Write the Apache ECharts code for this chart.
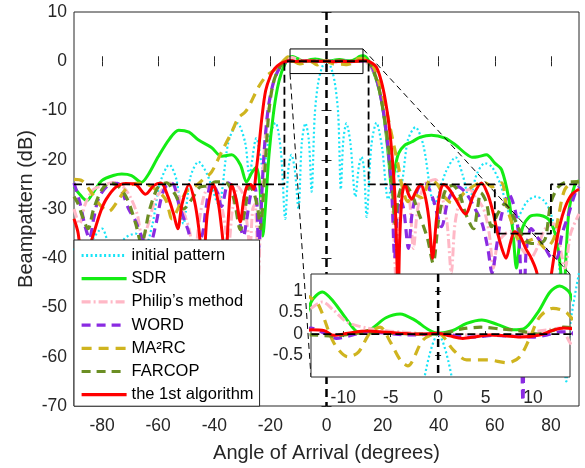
<!DOCTYPE html>
<html><head><meta charset="utf-8">
<script src="https://cdn.jsdelivr.net/npm/echarts@6/dist/echarts.min.js"></script>
<style>html,body{margin:0;padding:0;background:#fff}#c{width:585px;height:468px}</style>
</head><body><div id="c"></div>
<script>
// ---------- data ----------
const seriesNames = ['initial pattern','SDR','Philip\u2019s method','WORD','MA\u00b2RC','FARCOP','the 1st algorithm'];
const xTicksMain = [-80,-60,-40,-20,0,20,40,60,80];
const mainAngleRange = [-90, 90];
const mainDbRange = [-70, 10];
const insetAngleRange = [-13.4, 13.9];
const insetDbRange = [-1, 1.4];
const xTicksInset = [-10,-5,0,5,10];
const yTicksInset = [-0.5,0,0.5,1];
const zoomBoxAngles = [-13, 13];
const zoomBoxDb = [-2.5, 2.5];
const maskAngles = [-90,-15,-15,15,15,60,60,80,80,90];
const maskDb     = [-25,-25,0,0,-25,-25,-35,-35,-25,-25];
const boresight = 0;

const initialPattern = [[-90,-38],[-87,-45],[-84,-37],[-80,-34],[-76,-40],[-72,-36],[-68,-35],[-65,-38],[-62,-33],[-59.5,-25],[-56,-21],[-53.5,-24],[-51,-33],[-48.5,-23.5],[-45.6,-20.4],[-42.5,-23],[-38.5,-29],[-35,-16.5],[-31.7,-12.6],[-29,-16.5],[-27.5,-23],[-25,-15.6],[-22.5,-22],[-20.5,-15.5],[-18.2,-12.5],[-16.3,-18],[-14.7,-32],[-13.6,-22],[-12.5,-19],[-11.3,-22],[-10,-30],[-8.8,-16.5],[-7.5,-12.6],[-6.3,-16],[-5.3,-26.5],[-4.2,-11],[-3,-4.5],[-1.5,-1.1],[0,0],[1.5,-1.1],[3,-4.5],[4.2,-11],[5.1,-26],[6,-16],[7.1,-12.6],[8.5,-16.5],[10.3,-27.5],[11.5,-21.5],[12.5,-19.4],[13.4,-22],[14.3,-31.6],[16,-17],[17.8,-12.5],[19.8,-17.5],[22,-28],[24.5,-21],[26.5,-25],[29,-16],[31.7,-13.4],[34.5,-17],[38.5,-29],[42.5,-22.5],[46,-19.5],[48.5,-23],[51,-28],[53.5,-23],[56.5,-20.7],[59,-21.5],[62,-25],[64.5,-30],[66.5,-33],[68.5,-31.5],[71.5,-28.5],[74.5,-27.5],[77.5,-28.3],[80,-31],[82.5,-38],[85.5,-65],[87,-53],[90,-43]];

const sdr = [[-90,-25.5],[-88,-27],[-85.5,-28.3],[-83,-26.5],[-80,-24.2],[-76,-23.2],[-73,-22.9],[-69.5,-23.2],[-66,-24.6],[-63.5,-23],[-60,-19.4],[-56,-15.8],[-52.7,-14],[-49,-14.4],[-45.6,-16],[-41,-17.5],[-37.4,-19.3],[-33.8,-19],[-30.7,-21],[-28.5,-24.5],[-26.5,-22.5],[-25,-21.5],[-23.8,-25],[-22.7,-35.5],[-21.7,-29],[-20.5,-19],[-19,-11],[-17.5,-5.5],[-16,-2.2],[-14.5,-0.2],[-13.4,0.74],[-12.2,0.98],[-11,0.75],[-9.6,0.33],[-8.4,0.05],[-7.2,0.1],[-5.5,0.38],[-4,0.47],[-2.5,0.33],[-1,0.1],[0,0.02],[1.5,0.08],[3,0.25],[4.6,0.33],[6.3,0.22],[7.9,0.1],[9,0.12],[10.5,0.5],[11.8,0.98],[12.8,1.12],[13.9,0.95],[15,0.1],[16.5,-1.8],[18,-4.2],[19.6,-8],[21,-13.5],[22.2,-20],[23.2,-25.5],[24.3,-22],[25.7,-18.7],[28,-17],[30.3,-16.4],[33.5,-15.4],[37.4,-15],[42.3,-15.6],[46,-17],[49.5,-18.7],[52,-19.5],[54,-19.4],[57,-19],[60,-20.7],[62.4,-22],[65,-28],[66.5,-35],[67.7,-42],[68.8,-37],[70,-33.6],[72.5,-31.5],[75,-31.2],[79,-32],[81.5,-35],[83,-40],[84.5,-48],[85.5,-38],[86.5,-30],[88.7,-24.7],[90,-24.3]];

const philips = [[-90,-30],[-88,-33],[-86,-29],[-83,-26],[-80,-25.3],[-76,-24.6],[-72.5,-25.5],[-70,-27.5],[-67.5,-31],[-65.5,-36],[-63.5,-33],[-61,-28],[-58.4,-26],[-56,-24.7],[-53.5,-26],[-51.3,-30],[-49,-34],[-47,-40],[-45.5,-33],[-43.5,-27],[-41,-25],[-38.5,-27],[-36.5,-32],[-35,-38],[-33.5,-30],[-31.5,-25.5],[-29.8,-27],[-28.3,-33],[-27.3,-38],[-26.3,-30],[-25.5,-29],[-24.8,-36],[-24.3,-44],[-23.6,-34],[-22.8,-24],[-21.8,-15],[-20.6,-9],[-19,-4.5],[-17,-1.5],[-15,0.2],[-14.2,0.45],[-13.4,0.6],[-12.2,0.75],[-11,0.55],[-9.6,0.28],[-7.5,0.14],[-5.5,0.08],[-4,0.05],[-2,0.02],[0,0],[3.7,-0.02],[6,-0.02],[8.3,-0.03],[10,0.05],[11.5,0.1],[12.8,0.14],[13.9,-0.2],[15,-0.6],[16.5,-1.8],[18.5,-4.8],[20.5,-10.5],[22,-17.5],[23.2,-25],[24,-35],[24.8,-45],[25.6,-33],[27,-26],[28.3,-24.7],[29.6,-28],[31,-38],[32.5,-30],[35,-25],[38.8,-24],[41,-27],[43,-33],[44.5,-43],[45.8,-33],[48,-27.5],[51,-26],[53,-27.5],[56,-30],[58,-35],[59.5,-42],[61,-37],[63.8,-35],[66,-34.5],[69.5,-38],[72.7,-40],[75,-38],[78,-34],[81,-33],[83,-37],[85,-42],[87,-35],[90,-31]];

const word = [[-90,-24.7],[-88,-28.5],[-86,-33.6],[-84.5,-36],[-83,-32],[-81,-27.5],[-77.3,-25],[-74.5,-24.8],[-72.5,-27],[-70.5,-30],[-68,-32.5],[-65.6,-36],[-63.5,-38],[-61,-33.6],[-59,-28],[-57.4,-25.5],[-55,-24.8],[-52.4,-29.5],[-49.5,-34],[-47.5,-37],[-44.5,-35.6],[-43,-30],[-41,-24.7],[-39,-26.5],[-37.4,-29.5],[-35,-24.7],[-33.2,-26],[-31.5,-31],[-29.6,-35.5],[-28.4,-32],[-27,-27],[-25.6,-25.5],[-24.8,-29],[-24.2,-38],[-23.6,-34],[-22.8,-24],[-21.9,-16],[-20.7,-9.3],[-19,-4.5],[-17,-1.6],[-15,-0.3],[-13.4,0.14],[-12,0.02],[-10.7,-0.1],[-9,-0.02],[-7.5,0.05],[-5.5,0.02],[-3,-0.02],[0,0],[2,-0.04],[3.7,-0.07],[6,-0.03],[8,-0.05],[10,-0.07],[11.5,-0.02],[12.8,0.05],[13.9,0.05],[15,-0.3],[16.5,-1.5],[18.5,-5],[20.5,-11],[22,-18],[23.3,-27],[24.3,-40],[25.1,-32],[26.2,-28],[27.5,-30],[29.2,-38],[30.5,-31],[32.5,-26],[35,-24.7],[38,-28],[41,-33.6],[43.5,-28],[47,-25.5],[50,-27],[53,-30],[55.5,-33],[57.5,-38],[59,-43],[60.5,-38],[62.5,-31],[65,-27],[67.5,-31],[69,-40],[70,-69],[71,-40],[73,-34],[75.5,-36],[78,-38],[80.5,-40],[82,-40],[84,-35],[86,-31.6],[88.7,-26.7],[90,-25.5]];

const ma2rc = [[-90,-24],[-87,-24.3],[-84,-26.5],[-81,-29],[-77.7,-30.5],[-74,-28],[-71.6,-26],[-68,-24.8],[-65,-24.8],[-61,-26],[-57.4,-28],[-55,-32],[-53,-30],[-50,-26.5],[-47,-25.5],[-44,-24],[-41,-22.5],[-37.4,-18.4],[-33.8,-14.4],[-31.4,-11.5],[-29,-10.3],[-27.5,-9],[-24.2,-5.2],[-21.5,-3],[-19.6,-2.2],[-17.5,-1.3],[-16,-0.3],[-14.5,0.6],[-13.8,0.88],[-13.4,0.84],[-12.6,0.68],[-11,-0.2],[-9.5,-0.53],[-8.4,-0.42],[-7.2,0.02],[-6.1,0.16],[-5,-0.2],[-4,-0.6],[-3.2,-0.74],[-1.6,-0.14],[0,0.02],[1.6,-0.37],[3,-0.6],[5.2,-0.6],[7.3,-0.67],[8.6,-0.53],[9.7,-0.07],[10.7,0.4],[12.1,0.6],[13.6,0.49],[15,0],[17,-1.5],[19,-5],[21,-9],[22.5,-13],[24,-17],[25.5,-21],[27,-25.5],[29,-28.5],[31,-27],[34,-27.7],[37,-24],[39.5,-25],[42,-27.5],[44.6,-28.7],[47,-28],[49.5,-26.5],[53.5,-25],[56.6,-24.7],[59,-25.5],[62.4,-24.7],[64,-29],[66.6,-33.6],[69.5,-37],[72,-36.5],[74.5,-36],[78,-38],[81,-36],[82.7,-31.5],[85,-26],[88.7,-24.5],[90,-24.5]];

const farcop = [[-90,-27.5],[-88.5,-29],[-87,-31.5],[-85,-34],[-83,-30],[-80,-26],[-77,-24.7],[-74,-25.5],[-71,-28],[-68,-33],[-66,-37],[-63,-30],[-60,-25.5],[-57,-24.7],[-54,-27],[-51,-30],[-48,-28],[-45,-25.5],[-42,-25.3],[-39.6,-24.5],[-35.6,-24.7],[-33,-28],[-30.7,-34.2],[-29,-30],[-27.5,-25.5],[-26,-26.5],[-24.5,-30],[-23.5,-34],[-22.6,-28],[-21.5,-18],[-20.5,-10],[-19,-4.5],[-17,-1.5],[-15,-0.2],[-13.4,-0.02],[-11,-0.05],[-8,0.03],[-5,0.02],[-2,0],[0,0],[2.5,0.12],[4.5,0.16],[6.5,0.12],[8.5,0.08],[10.5,0],[12,0.08],[13.2,0.16],[13.9,0.15],[15,-0.2],[16.5,-1.5],[18.5,-5],[20.5,-11],[22,-17],[23.5,-26],[24.5,-33],[25.5,-28],[27.5,-25],[30,-26.5],[33,-31],[36,-36],[38,-41],[40,-32],[42.5,-26],[45,-25.2],[47.5,-27],[49.5,-30.8],[52.4,-34],[53.8,-30],[55,-26.7],[57,-28.7],[58.8,-33.6],[61,-31],[63.5,-29],[66,-30.8],[70,-35.6],[73,-37],[76,-37],[78,-36],[80,-28.7],[82.7,-25.5],[86,-24.5],[90,-24.5]];

const firstAlgorithm = [[-90,-32],[-88.5,-35],[-86.5,-44],[-84.5,-38],[-83,-35],[-80.5,-30.5],[-78.5,-28],[-75,-25.5],[-71.5,-24.8],[-68,-25],[-64.5,-27],[-61.5,-25.2],[-59,-24.7],[-56.5,-27.5],[-54.5,-31],[-53,-34],[-51.5,-29],[-49,-25],[-47,-28.5],[-45.5,-34],[-44,-42],[-42.5,-31],[-40.3,-25],[-38.5,-29],[-37,-36],[-36,-42],[-35,-32],[-33.8,-25],[-32.2,-28],[-30.7,-32.6],[-29.5,-28],[-28.3,-25.3],[-27,-25],[-26,-26],[-25,-22],[-24.2,-18],[-23,-11.3],[-21.7,-6],[-20,-3],[-18.5,-1.5],[-16.5,-0.5],[-15,-0.15],[-13.4,0.1],[-12,0.08],[-11,-0.03],[-9.5,0.02],[-7.5,0.07],[-5.8,0.05],[-4,0.02],[-2,0],[0,0.02],[1.2,-0.04],[2.6,-0.1],[4,-0.06],[5.5,-0.02],[7,-0.04],[8.6,-0.07],[10.7,-0.02],[12,0.08],[13.2,0.14],[14.5,0.1],[16,-0.3],[17.8,-1.2],[19.5,-4],[21,-8],[22.3,-13],[23.2,-18],[24.3,-26.5],[25.1,-40],[25.5,-50],[26.1,-36],[27,-27],[28,-25],[29.2,-27],[30.3,-28],[31.8,-26.5],[33.5,-25],[35,-27],[36.5,-32],[37.8,-40],[39.2,-32],[40.5,-26.5],[41.7,-25],[43.5,-25.8],[46,-28],[49.5,-31],[52.5,-27],[55.2,-24.7],[57.5,-27],[59.5,-31],[60.6,-34],[62.5,-38],[64,-40],[65.5,-37],[67,-34.6],[69,-35.5],[71,-38],[73,-40],[75,-43],[77.5,-55],[79.5,-46],[81,-40],[82.5,-35],[84,-31.5],[85.5,-29],[87.5,-27],[90,-26]];

const allData = [initialPattern, sdr, philips, word, ma2rc, farcop, firstAlgorithm];

// ---------- styles ----------
const FONT = 'Liberation Sans, Arial, Helvetica, sans-serif';
const INK = '#262626';
const lineStyles = [
  {color:'#18e4f7', width:2.2, type:[2,2.5]},
  {color:'#14ec14', width:3, type:'solid'},
  {color:'#ffb8c6', width:3, type:[9,3,2,3]},
  {color:'#8a2be2', width:3.2, type:[9,6]},
  {color:'#cfb41f', width:3.2, type:[10,7]},
  {color:'#6b8e23', width:3.2, type:[9,6]},
  {color:'#ff0000', width:3, type:'solid'}
];

function zip(a, b){ return a.map((v,i)=>[v,b[i]]); }

const series = [];
allData.forEach((d, i) => {
  const ls = lineStyles[i];
  series.push({type:'line', name:seriesNames[i], data:d, xAxisIndex:0, yAxisIndex:0,
    showSymbol:false, symbol:'none', smooth:0.3, z:2, silent:true,
    lineStyle:{color:ls.color, width:ls.width, type:ls.type, cap:'butt'}, itemStyle:{color:ls.color}});
});
allData.forEach((d, i) => {
  const ls = lineStyles[i];
  series.push({type:'line', name:seriesNames[i], data:d, xAxisIndex:2, yAxisIndex:2,
    showSymbol:false, symbol:'none', smooth:0.3, z:12, silent:true,
    lineStyle:{color:ls.color, width:ls.width, type:ls.type, cap:'butt'}, itemStyle:{color:ls.color}});
});
// mask (main + inset)
series.push({type:'line', data:zip(maskAngles, maskDb), xAxisIndex:0, yAxisIndex:0, symbol:'none', z:3, silent:true,
  lineStyle:{color:'#000', width:1.8, type:[8,4]}});
series.push({type:'line', data:zip(maskAngles, maskDb), xAxisIndex:2, yAxisIndex:2, symbol:'none', z:13, silent:true,
  lineStyle:{color:'#000', width:1.6, type:[8,4]}});
// boresight lines
series.push({type:'line', data:[[boresight, mainDbRange[1]],[boresight, mainDbRange[0]]], xAxisIndex:0, yAxisIndex:0, symbol:'none', z:4, silent:true,
  lineStyle:{color:'#000', width:2.5, type:[8,5]}});
series.push({type:'line', data:[[boresight, insetDbRange[1]],[boresight, insetDbRange[0]]], xAxisIndex:2, yAxisIndex:2, symbol:'none', z:14, silent:true,
  lineStyle:{color:'#000', width:2.5, type:[8,5]}});
// zoom box
series.push({type:'line', data:[[zoomBoxAngles[0],zoomBoxDb[0]],[zoomBoxAngles[0],zoomBoxDb[1]],[zoomBoxAngles[1],zoomBoxDb[1]],[zoomBoxAngles[1],zoomBoxDb[0]],[zoomBoxAngles[0],zoomBoxDb[0]]],
  xAxisIndex:0, yAxisIndex:0, symbol:'none', z:4, silent:true, lineStyle:{color:'#000', width:1}});

const tickLbl = {fontSize:17.5, color:INK, fontFamily:FONT};

const option = {
  animation:false,
  backgroundColor:'#fff',
  grid:[
    {left:74, top:12, width:505, height:394, show:true, borderColor:INK, borderWidth:1, backgroundColor:'#fff', z:0},
    {left:311, top:274, width:259, height:103, show:true, borderColor:INK, borderWidth:1, backgroundColor:'#fff', z:10}
  ],
  xAxis:[
    {gridIndex:0, type:'value', min:mainAngleRange[0], max:mainAngleRange[1], axisLine:{show:false}, splitLine:{show:false},
     axisTick:{inside:true, length:5, customValues:xTicksMain, lineStyle:{color:INK}},
     axisLabel:Object.assign({customValues:xTicksMain, margin:11}, tickLbl),
     name:'Angle of Arrival (degrees)', nameLocation:'middle', nameGap:37, nameMoveOverlap:false,
     nameTextStyle:{fontSize:20, color:INK, fontFamily:FONT}},
    {gridIndex:0, type:'value', position:'top', min:mainAngleRange[0], max:mainAngleRange[1], axisLine:{show:false}, splitLine:{show:false},
     axisTick:{inside:true, length:5, customValues:xTicksMain, lineStyle:{color:INK}}, axisLabel:{show:false}},
    {gridIndex:1, type:'value', min:insetAngleRange[0], max:insetAngleRange[1], axisLine:{show:false}, splitLine:{show:false}, z:12,
     axisTick:{inside:true, length:3, customValues:xTicksInset, lineStyle:{color:INK}},
     axisLabel:Object.assign({customValues:xTicksInset, margin:12}, tickLbl)},
    {gridIndex:1, type:'value', position:'top', min:insetAngleRange[0], max:insetAngleRange[1], axisLine:{show:false}, splitLine:{show:false}, z:12,
     axisTick:{inside:true, length:3, customValues:xTicksInset, lineStyle:{color:INK}}, axisLabel:{show:false}}
  ],
  yAxis:[
    {gridIndex:0, type:'value', min:mainDbRange[0], max:mainDbRange[1], interval:10, axisLine:{show:false}, splitLine:{show:false},
     axisTick:{inside:true, length:5, lineStyle:{color:INK}},
     axisLabel:Object.assign({margin:7}, tickLbl),
     name:'Beampattern (dB)', nameLocation:'middle', nameGap:38, nameMoveOverlap:false,
     nameTextStyle:{fontSize:20, color:INK, fontFamily:FONT}},
    {gridIndex:0, type:'value', position:'right', min:mainDbRange[0], max:mainDbRange[1], interval:10, axisLine:{show:false}, splitLine:{show:false},
     axisTick:{inside:true, length:5, lineStyle:{color:INK}}, axisLabel:{show:false}},
    {gridIndex:1, type:'value', min:insetDbRange[0], max:insetDbRange[1], interval:0.5, axisLine:{show:false}, splitLine:{show:false}, z:12,
     axisTick:{inside:true, length:3, customValues:yTicksInset, lineStyle:{color:INK}},
     axisLabel:Object.assign({customValues:yTicksInset, margin:8}, tickLbl)},
    {gridIndex:1, type:'value', position:'right', min:insetDbRange[0], max:insetDbRange[1], interval:0.5, axisLine:{show:false}, splitLine:{show:false}, z:12,
     axisTick:{inside:true, length:3, customValues:yTicksInset, lineStyle:{color:INK}}, axisLabel:{show:false}}
  ],
  legend:{
    data:seriesNames, orient:'vertical', left:74, top:240, selectedMode:false,
    backgroundColor:'#fff', borderColor:INK, borderWidth:1, borderRadius:0,
    padding:[7,6,3,6], itemWidth:45, itemHeight:14, itemGap:6.2,
    itemStyle:{opacity:0, borderWidth:0},
    lineStyle:{width:3.2},
    textStyle:{fontSize:16.5, lineHeight:16, color:'#000', fontFamily:FONT}, z:20
  },
  series:series
};

const chart = echarts.init(document.getElementById('c'), null, {renderer:'canvas'});
chart.setOption(option);
const a1 = chart.convertToPixel({xAxisIndex:0, yAxisIndex:0}, [zoomBoxAngles[0], zoomBoxDb[0]]);
const b1 = chart.convertToPixel({xAxisIndex:2, yAxisIndex:2}, [insetAngleRange[0], insetDbRange[0]]);
const a2 = chart.convertToPixel({xAxisIndex:0, yAxisIndex:0}, [zoomBoxAngles[1], zoomBoxDb[1]]);
const b2 = chart.convertToPixel({xAxisIndex:2, yAxisIndex:2}, [insetAngleRange[1], insetDbRange[1]]);
chart.setOption({graphic:[
  {type:'line', z:5, silent:true, shape:{x1:a1[0], y1:a1[1], x2:b1[0], y2:b1[1]}, style:{stroke:'#000', lineWidth:1, lineDash:[6,4]}},
  {type:'line', z:5, silent:true, shape:{x1:a2[0], y1:a2[1], x2:b2[0], y2:b2[1]}, style:{stroke:'#000', lineWidth:1, lineDash:[6,4]}}
]});
</script>
</body></html>
